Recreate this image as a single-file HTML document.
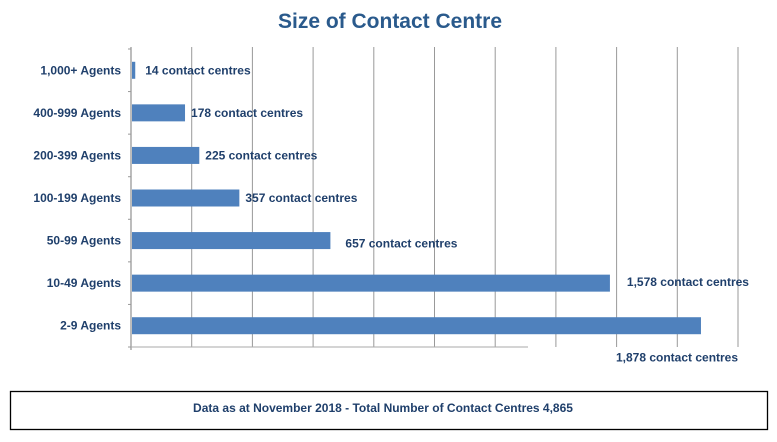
<!DOCTYPE html>
<html><head><meta charset="utf-8"><style>
body{margin:0;background:#fff;width:777px;height:437px;overflow:hidden;font-family:"Liberation Sans",Arial,sans-serif}
svg text{font-family:"Liberation Sans",Arial,sans-serif;font-weight:bold}
</style></head><body>
<svg width="777" height="437">
<text x="390" y="28" text-anchor="middle" font-size="21" fill="#2a5a8c">Size of Contact Centre</text>
<g id="grid"></g><g id="bars"></g><g id="labels"></g>
<rect x="10.5" y="391.5" width="757" height="38" fill="#fff" stroke="#000" stroke-width="1.3"/>
<text x="383" y="412" text-anchor="middle" font-size="12" fill="#1f3f6b">Data as at November 2018 - Total Number of Contact Centres 4,865</text>
</svg>
<script>
const categories=["1,000+ Agents","400-999 Agents","200-399 Agents","100-199 Agents","50-99 Agents","10-49 Agents","2-9 Agents"];
const values=[14,178,225,357,657,1578,1878];
const valueLabels=["14 contact centres","178 contact centres","225 contact centres","357 contact centres","657 contact centres","1,578 contact centres","1,878 contact centres"];
const gridTicks=[0,200,400,600,800,1000,1200,1400,1600,1800,2000];
const NS="http://www.w3.org/2000/svg";
const x0=131,pxPer=(738-131)/2000,yTop=49,yBottom=347;
const band=(yBottom-yTop)/categories.length;
const xs=v=>x0+v*pxPer, yc=i=>yTop+band*(i+0.5);
function mk(t,a,p){const e=document.createElementNS(NS,t);for(const k in a)e.setAttribute(k,a[k]);p.appendChild(e);return e;}
const g=document.getElementById('grid'),b=document.getElementById('bars'),l=document.getElementById('labels');
gridTicks.forEach((t,i)=>{if(i===0)return;const e=mk('line',{x1:xs(t),x2:xs(t),y1:yTop-2,y2:yBottom,stroke:'#999','stroke-width':1},g);

});
const ax=mk('line',{x1:x0,x2:x0,y1:yTop-2,y2:yBottom+3,stroke:'#999','stroke-width':1.3},g);


const xAx=mk('line',{x1:x0,x2:528,y1:yBottom,y2:yBottom,stroke:'#aaa','stroke-width':1},g);


for(let i=0;i<=categories.length;i++){mk('line',{x1:x0-3,x2:x0,y1:yTop+band*i,y2:yTop+band*i,stroke:'#999'},g);}
const ly=[0,0,0,0,3,-1,32];
categories.forEach((c,i)=>{
const r=mk('rect',{x:x0+1,y:yc(i)-8.5,width:Math.max(1,xs(values[i])-x0-1),height:17,fill:'#4f81bd'},b);


const t=mk('text',{x:x0-10,y:yc(i)+4,'text-anchor':'end','font-size':12,fill:'#1f3f6b'},l);t.textContent=c;


const barEnd=xs(values[i]);const vx=i<5?barEnd+(i===0?10:i===4?15:6):(i===5?barEnd+17:barEnd-85);
const v=mk('text',{x:vx,y:yc(i)+4+ly[i],'font-size':12,fill:'#1f3f6b'},l);v.textContent=valueLabels[i];


});
</script>
</body></html>
